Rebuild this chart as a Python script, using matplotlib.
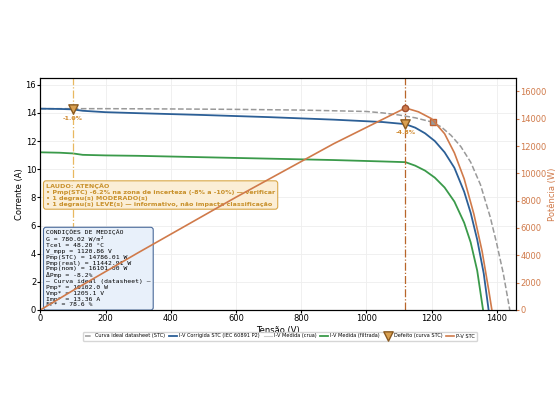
import matplotlib
matplotlib.use("Agg")
import matplotlib.pyplot as plt

# Ideal datasheet curve (STC)
v_ideal = [0, 200, 400, 600, 800, 1000, 1050, 1100, 1150, 1200, 1230, 1260, 1290, 1320, 1350, 1380, 1400, 1420, 1440]
i_ideal = [14.3, 14.3, 14.28, 14.25, 14.2, 14.1, 14.0, 13.85, 13.65, 13.36, 13.0, 12.4, 11.6, 10.5, 8.9, 6.6, 4.7, 2.6, 0.0]
# Corrected STC curve
v_stc = [0, 60, 100, 130, 200, 300, 500, 700, 900, 1050, 1120, 1150, 1180, 1210, 1240, 1270, 1300, 1320, 1340, 1360, 1375]
i_stc = [14.3, 14.28, 14.25, 14.15, 14.05, 13.98, 13.85, 13.7, 13.52, 13.35, 13.2, 12.95, 12.55, 12.0, 11.2, 10.1, 8.4, 6.9, 5.0, 2.6, 0.0]
# Measured filtered
v_meas = [0, 60, 100, 130, 200, 300, 500, 700, 900, 1050, 1120, 1150, 1180, 1210, 1240, 1270, 1300, 1320, 1340, 1358]
i_meas = [11.2, 11.17, 11.12, 11.02, 10.98, 10.95, 10.85, 10.75, 10.65, 10.55, 10.5, 10.25, 9.9, 9.4, 8.7, 7.7, 6.2, 4.8, 2.8, 0.0]
# P-V STC
v_pow = [0, 100, 300, 600, 900, 1120, 1160, 1200, 1240, 1270, 1300, 1330, 1355, 1375, 1385]
p_pow = [0, 1425, 4190, 8250, 12170, 14786, 14500, 14000, 12900, 11500, 9600, 7000, 4300, 1500, 0]

defect_v = [100, 1120]
defect_i = [14.25, 13.2]
defect_lbl = ["-1.0%", "-4.8%"]

fig, ax = plt.subplots(figsize=(5.6, 4.2), dpi=100)
fig.subplots_adjust(left=0.072, right=0.922, top=0.815, bottom=0.262)
ax2 = ax.twinx()

ax.plot(v_ideal, i_ideal, "--", color="#999999", lw=1.1, label="Curva ideal datasheet (STC)")
ax.plot(v_stc, i_stc, color="#2c5f96", lw=1.3, label="I-V Corrigida STC (IEC 60891 P2)")
ax.plot([], [], color="#cccccc", lw=0.8, label="I-V Medida (crua)")
ax.plot(v_meas, i_meas, color="#3a9a4a", lw=1.3, label="I-V Medida (filtrada)")
ax.scatter(defect_v, defect_i, marker="v", s=45, color="#d9a050", edgecolor="#8a5a20", zorder=5, label="Defeito (curva STC)")
for v, i, t in zip(defect_v, defect_i, defect_lbl):
    ax.text(v, i - 0.45, t, fontsize=4.5, color="#d08a30", ha="center", va="top", fontweight="bold")
ax.axvline(defect_v[0], color="#e8b860", ls="-.", lw=0.9)
ax.axvline(defect_v[1], color="#b8662a", ls="-.", lw=0.9)
ax.plot([1205], [13.36], "s", ms=4, color="#999999", mec="#c06030", zorder=5)

ax2.plot(v_pow, p_pow, color="#d07a4a", lw=1.2, label="P-V STC")
ax2.plot([1120], [14786], "o", ms=4.5, color="#d07a4a", mec="#a05030")

ax.set_xlim(0, 1460)
ax.set_ylim(0, 16.5)
ax2.set_ylim(0, 17000)
ax.set_xlabel("Tensão (V)", fontsize=6, labelpad=2)
ax.set_ylabel("Corrente (A)", fontsize=6, labelpad=1)
ax2.set_ylabel("Potência (W)", fontsize=6, color="#d07a4a", labelpad=1)
ax.tick_params(labelsize=6, length=2, pad=1)
ax2.tick_params(labelsize=6, length=2, pad=1, colors="#d07a4a")
ax.grid(True, color="#eeeeee", lw=0.6)

h1, l1 = ax.get_legend_handles_labels()
h2, l2 = ax2.get_legend_handles_labels()
fig.legend(h1 + h2, l1 + l2, loc="center", bbox_to_anchor=(0.5, 0.2), ncol=7, fontsize=3.6,
           frameon=True, handlelength=1.6, columnspacing=0.8, handletextpad=0.4)

ax.text(0.012, 0.545, "LAUDO: ATENÇÃO\n• Pmp(STC) -6.2% na zona de incerteza (-8% a -10%) — verificar\n• 1 degrau(s) MODERADO(s)\n• 1 degrau(s) LEVE(s) — informativo, não impacta classificação",
        transform=ax.transAxes, fontsize=4.6, color="#c8902a", fontweight="bold", family="DejaVu Sans", va="top",
        bbox=dict(boxstyle="round,pad=0.4", fc="#fbeed6", ec="#d9a84a", lw=0.8))
ax.text(0.012, 0.345, "CONDIÇÕES DE MEDIÇÃO\nG = 780.02 W/m²\nTcel = 48.20 °C\nV_mpp = 1120.86 V\nPmp(STC) = 14786.01 W\nPmp(real) = 11442.91 W\nPmp(nom) = 16101.00 W\nΔPmp = -8.2%\n— Curva ideal (datasheet) —\nPmp* = 16102.0 W\nVmp* = 1205.1 V\nImp* = 13.36 A\nFF* = 78.6 %",
        transform=ax.transAxes, fontsize=4.6, family="DejaVu Sans Mono", va="top",
        bbox=dict(boxstyle="round,pad=0.4", fc="#e8f0fa", ec="#4a6a9a", lw=0.8))

fig.savefig("out.png", dpi=100)
